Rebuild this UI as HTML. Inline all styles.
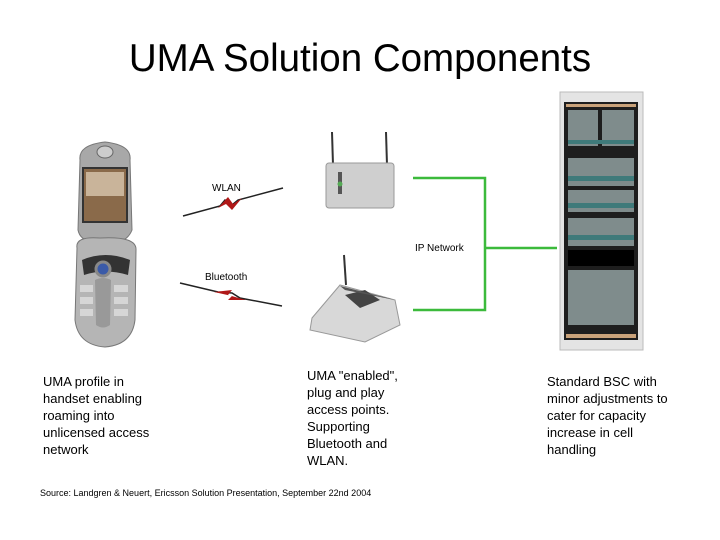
<!DOCTYPE html>
<html><head><meta charset="utf-8"><style>
html,body{margin:0;padding:0;background:#fff;}
svg{display:block;}
text{font-family:"Liberation Sans",Arial,sans-serif;fill:#000;}
</style></head><body>
<svg width="720" height="540" viewBox="0 0 720 540" xmlns="http://www.w3.org/2000/svg">
<rect width="720" height="540" fill="#fff"/>
<text x="360" y="71" font-size="38.5" text-anchor="middle">UMA Solution Components</text>

<!-- phone -->
<path d="M80 160 Q78 145 105 142 Q132 145 130 160 L132 230 Q128 240 118 242 L92 242 Q80 240 78 230 Z" fill="#a8a8a8" stroke="#777"/>
<ellipse cx="105" cy="152" rx="8" ry="6" fill="#ccc" stroke="#666"/>
<rect x="83" y="168" width="44" height="54" fill="#8a6a4a" stroke="#333" stroke-width="2"/>
<rect x="86" y="172" width="38" height="24" fill="#c9b49a"/>
<path d="M77 248 Q75 236 100 238 Q137 236 136 250 L135 320 Q132 345 105 347 Q78 345 75 320 Z" fill="#b5b5b5" stroke="#777"/>
<path d="M82 260 Q105 250 130 260 L128 275 Q105 268 84 275 Z" fill="#333"/>
<circle cx="103" cy="269" r="7" fill="#3a5aa8" stroke="#888" stroke-width="3"/>
<path d="M95 280 Q103 276 111 280 L110 325 Q103 330 96 325 Z" fill="#999"/>
<g fill="#d6d6d6"><rect x="80" y="285" width="13" height="7"/><rect x="80" y="297" width="13" height="7"/><rect x="80" y="309" width="13" height="7"/><rect x="114" y="285" width="14" height="7"/><rect x="114" y="297" width="14" height="7"/><rect x="114" y="309" width="14" height="7"/></g>

<!-- WLAN link -->
<text x="212" y="191" font-size="10">WLAN</text>
<path d="M183 216 L220 206 L225 200 L232 205 L238 200 L283 188" fill="none" stroke="#222" stroke-width="1.5"/>
<path d="M218 208 L228 197 L233 204 L242 198 L232 210 L226 204 Z" fill="#b01818"/>
<!-- Bluetooth link -->
<text x="205" y="280" font-size="10">Bluetooth</text>
<path d="M180 283 L218 292 L232 293 L240 298 L282 306" fill="none" stroke="#222" stroke-width="1.5"/>
<path d="M214 292 L232 290 L228 295 L246 300 L228 300 L232 296 Z" fill="#b01818"/>

<!-- AP1 -->
<line x1="332" y1="132" x2="333" y2="165" stroke="#333" stroke-width="2"/>
<line x1="386" y1="132" x2="387" y2="165" stroke="#333" stroke-width="2"/>
<rect x="326" y="163" width="68" height="45" rx="3" fill="#cfcfcf" stroke="#999"/>
<rect x="338" y="172" width="4" height="22" fill="#555"/>
<circle cx="340" cy="184" r="2.5" fill="#5a5"/>
<!-- AP2 -->
<line x1="344" y1="255" x2="346" y2="285" stroke="#333" stroke-width="2"/>
<path d="M312 318 L340 285 L395 300 L400 325 L365 342 L310 330 Z" fill="#d8d8d8" stroke="#999"/>
<path d="M345 295 L365 290 L380 300 L360 308 Z" fill="#444"/>
<path d="M340 286 L395 300 L385 298 L345 290 Z" fill="#555"/>

<!-- green network -->
<g stroke="#3cba3c" stroke-width="2.5" fill="none">
<path d="M413 178 L485 178 L485 310 L413 310"/>
<path d="M485 248 L557 248"/>
</g>
<text x="415" y="251" font-size="10">IP Network</text>

<!-- rack -->
<rect x="560" y="92" width="83" height="258" fill="#e4e4e4" stroke="#bbb"/>
<rect x="564" y="102" width="74" height="238" fill="#1e1e1e"/>
<rect x="566" y="104" width="70" height="3" fill="#c9a27a"/>
<rect x="566" y="334" width="70" height="4" fill="#c9a27a"/>
<g fill="#7f8c8c">
<rect x="568" y="110" width="30" height="36"/><rect x="602" y="110" width="32" height="36"/>
<rect x="568" y="158" width="66" height="28"/>
<rect x="568" y="190" width="66" height="22"/>
<rect x="568" y="218" width="66" height="28"/>
<rect x="568" y="270" width="66" height="55"/>
</g>
<g fill="#3f7a7a">
<rect x="568" y="176" width="66" height="5"/><rect x="568" y="203" width="66" height="5"/><rect x="568" y="235" width="66" height="5"/><rect x="568" y="140" width="66" height="4"/>
</g>
<rect x="568" y="250" width="66" height="16" fill="#000"/>

<!-- text blocks -->
<g font-size="13">
<text x="43" y="386">UMA profile in</text>
<text x="43" y="403">handset enabling</text>
<text x="43" y="420">roaming into</text>
<text x="43" y="437">unlicensed access</text>
<text x="43" y="454">network</text>
<text x="307" y="380">UMA "enabled",</text>
<text x="307" y="397">plug and play</text>
<text x="307" y="414">access points.</text>
<text x="307" y="431">Supporting</text>
<text x="307" y="448">Bluetooth and</text>
<text x="307" y="465">WLAN.</text>
<text x="547" y="386">Standard BSC with</text>
<text x="547" y="403">minor adjustments to</text>
<text x="547" y="420">cater for capacity</text>
<text x="547" y="437">increase in cell</text>
<text x="547" y="454">handling</text>
</g>
<text x="40" y="496" font-size="9">Source: Landgren &amp; Neuert, Ericsson Solution Presentation, September 22nd 2004</text>
</svg>
</body></html>
